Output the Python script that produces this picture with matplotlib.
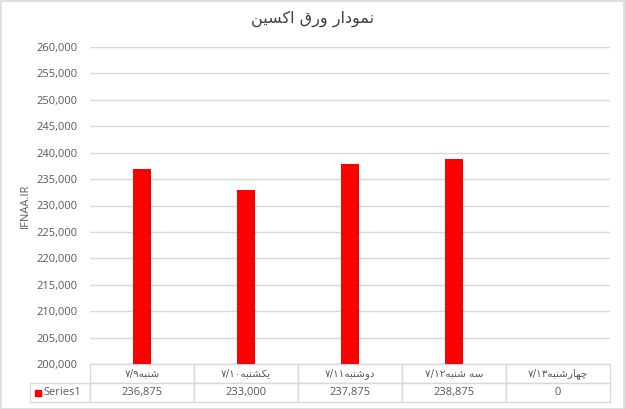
import numpy as np
import matplotlib.pyplot as plt
from matplotlib.patches import Rectangle

# data
categories = ['شنبه۷/۹', 'یکشنبه۷/۱۰', 'دوشنبه۷/۱۱', 'سه شنبه۷/۱۲', 'چهارشنبه۷/۱۳']
values = [236875, 233000, 237875, 238875, 0]
series_name = 'Series1'
title = 'نمودار ورق اکسین'
ylabel = 'IFNAA.IR'

# small arabic shaper, matplotlib does no shaping / bidi
forms = {
    'ن': (0xFEE5, 0xFEE6, 0xFEE7, 0xFEE8),
    'م': (0xFEE1, 0xFEE2, 0xFEE3, 0xFEE4),
    'ق': (0xFED5, 0xFED6, 0xFED7, 0xFED8),
    'ک': (0xFB8E, 0xFB8F, 0xFB90, 0xFB91),
    'س': (0xFEB1, 0xFEB2, 0xFEB3, 0xFEB4),
    'ی': (0xFBFC, 0xFBFD, 0xFBFE, 0xFBFF),
    'ش': (0xFEB5, 0xFEB6, 0xFEB7, 0xFEB8),
    'ب': (0xFE8F, 0xFE90, 0xFE91, 0xFE92),
    'ه': (0xFEE9, 0xFEEA, 0xFEEB, 0xFEEC),
    'چ': (0xFB7A, 0xFB7B, 0xFB7C, 0xFB7D),
    'و': (0xFEED, 0xFEEE),
    'د': (0xFEA9, 0xFEAA),
    'ا': (0xFE8D, 0xFE8E),
    'ر': (0xFEAD, 0xFEAE),
}

def shape(s):
    out = []
    for i, c in enumerate(s):
        if c not in forms:
            out.append(c)
            continue
        prev = s[i-1] if i > 0 else ''
        nxt = s[i+1] if i < len(s)-1 else ''
        jp = prev in forms and len(forms[prev]) == 4
        jn = len(forms[c]) == 4 and nxt in forms
        f = forms[c]
        if jp and jn:
            out.append(chr(f[3]))
        elif jp:
            out.append(chr(f[1]))
        elif jn:
            out.append(chr(f[2]))
        else:
            out.append(chr(f[0]))
    return ''.join(out)

def visual(s):
    shaped = shape(s)
    runs = []
    for c in shaped:
        isnum = c == '/' or '\u06f0' <= c <= '\u06f9'
        if runs and runs[-1][0] == isnum:
            runs[-1][1].append(c)
        else:
            runs.append([isnum, [c]])
    parts = []
    for isnum, chars in reversed(runs):
        parts.append(''.join(chars if isnum else chars[::-1]))
    return ''.join(parts)

grey = '#595959'
line_c = '#D9D9D9'
arabic = ['DejaVu Sans']
plt.rcParams['font.family'] = ['Open Sans', 'DejaVu Sans']

fig = plt.figure(figsize=(6.25, 4.09), dpi=100)
ax = fig.add_axes([90/625, 1-364/409, 520/625, 317/409])

x = np.arange(len(categories))
ax.bar(x, values, width=0.18, color='#FF0000', zorder=3)
ax.set_xlim(-0.5, len(categories)-0.5)
ax.set_ylim(200000, 260000)
ax.set_yticks(np.arange(200000, 260001, 5000))
ax.set_yticklabels(['{:,}'.format(v) for v in range(200000, 260001, 5000)])
ax.yaxis.grid(True, color=line_c, linewidth=1, zorder=0)
ax.tick_params(axis='y', length=0, pad=9, labelsize=8, labelcolor=grey)
ax.set_xticks([])
for sp in ax.spines.values():
    sp.set_visible(False)
ax.set_ylabel(ylabel, color=grey, fontsize=8, labelpad=4)

fig.text(0.5, 1-19/409, visual(title), ha='center', va='center',
         fontsize=11.5, color='#404040', family=arabic)

# data table under the plot
cell_text = [[series_name] + ['{:,}'.format(v) for v in values]]
col_labels = [''] + [visual(c) for c in categories]
wl = 60/520
tab = ax.table(cellText=cell_text, colLabels=col_labels, cellLoc='center',
               colWidths=[wl] + [1/len(categories)]*len(categories),
               bbox=[-wl, -38/317, 1+wl, 38/317])
tab.auto_set_font_size(False)
for (r, c), cell in tab.get_celld().items():
    cell.set_edgecolor(line_c)
    cell.set_linewidth(1)
    cell.get_text().set_color(grey)
    cell.get_text().set_fontsize(8)
    if r == 0:
        cell.get_text().set_family(arabic)
        cell.get_text().set_fontsize(7.5)
    if r == 0 and c == 0:
        cell.visible_edges = ''
    if r == 1 and c == 0:
        cell.get_text().set_ha('left')
        cell.PAD = 0.22
        cell.get_text().set_text(series_name)

ax.plot([-wl + 0.016], [-29/317], marker='s', markersize=5, color='#FF0000',
        transform=ax.transAxes, clip_on=False)

fig.add_artist(Rectangle((0.001, 0.001), 0.997, 0.997, transform=fig.transFigure,
                         fill=False, edgecolor=line_c, linewidth=1.2))

fig.savefig('out.png', dpi=100)
